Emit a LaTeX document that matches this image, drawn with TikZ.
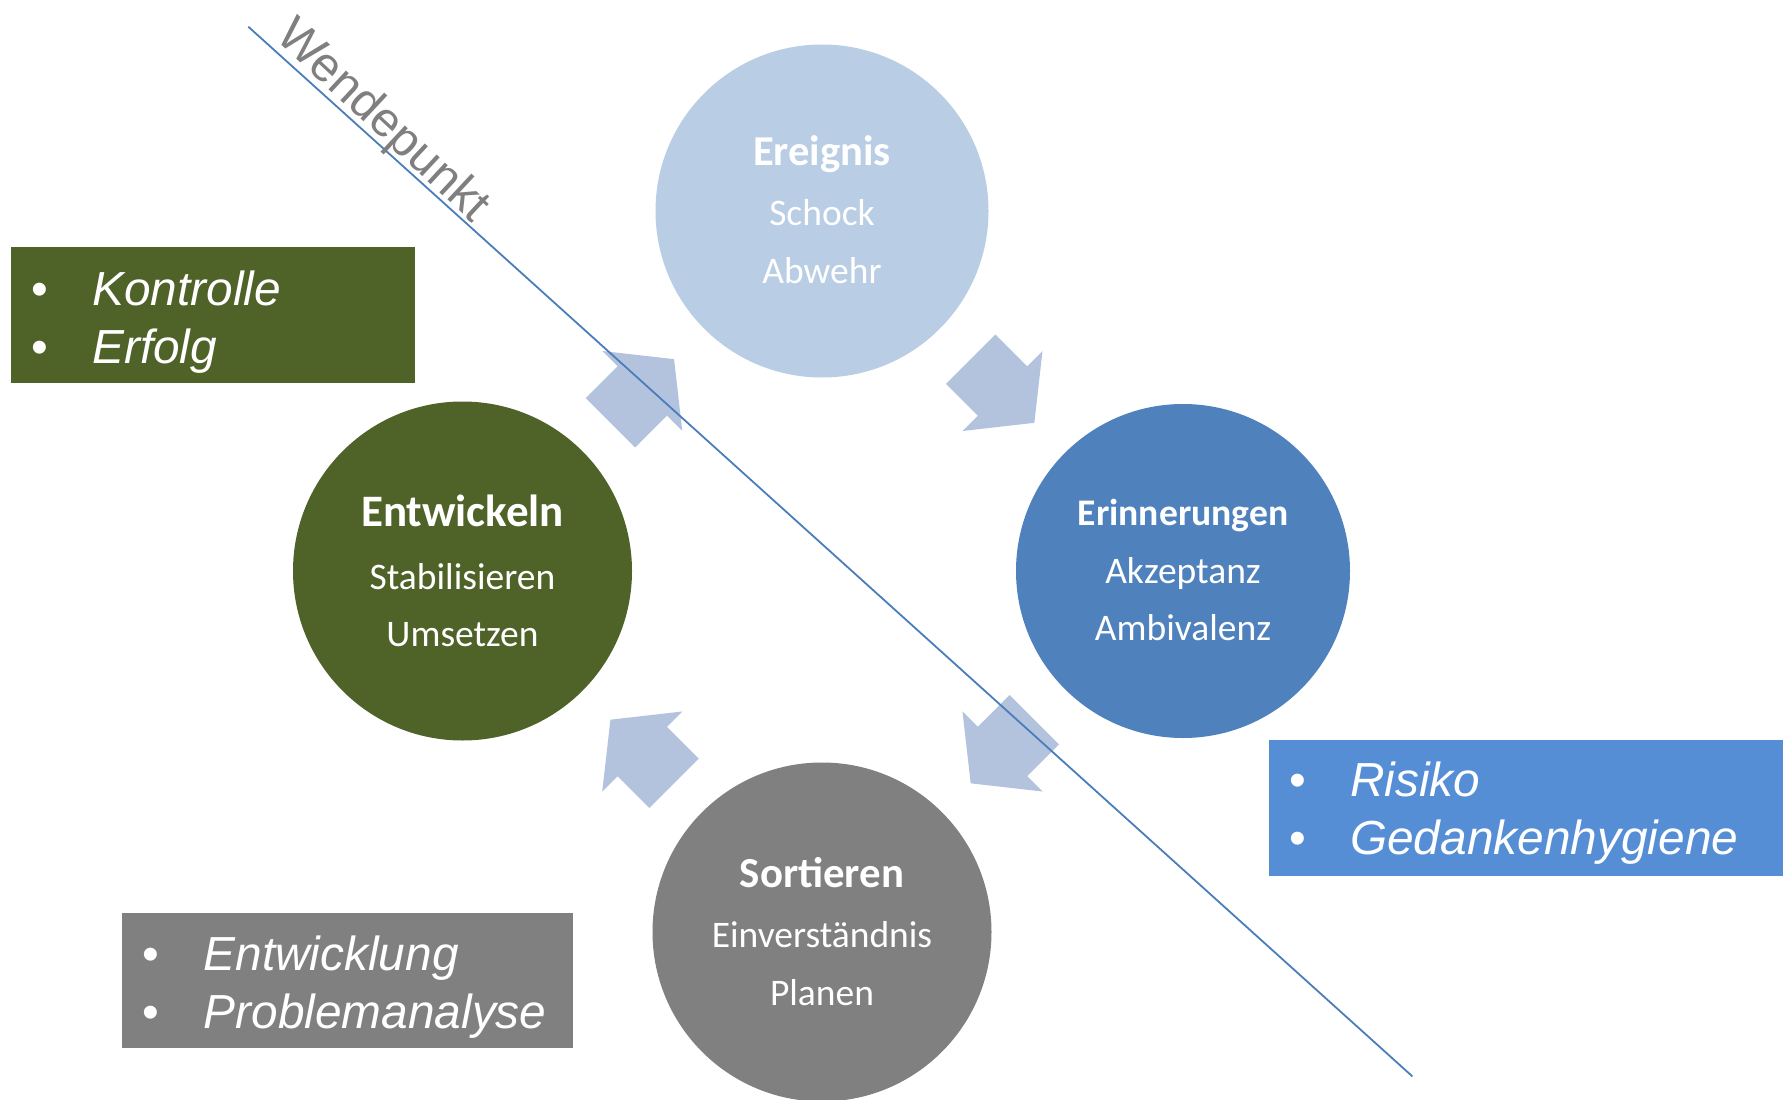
\documentclass[tikz,border=0pt]{standalone}
\usepackage{fontspec}
\setmainfont{Carlito}
\newfontfamily\arialf{Liberation Sans}
\usetikzlibrary{calc}
\definecolor{evblue}{HTML}{B9CDE5}
\definecolor{erblue}{HTML}{4F81BD}
\definecolor{sogray}{HTML}{808080}
\definecolor{engreen}{HTML}{4F6228}
\definecolor{boxblue}{HTML}{558ED5}
\definecolor{arrowc}{HTML}{B3C3DE}
\definecolor{linec}{HTML}{4A7EBB}
\definecolor{wpgray}{HTML}{7F7F7F}
\tikzset{
  circ/.style={circle,inner sep=0pt,draw=none},
  ttl/.style={anchor=base,inner sep=0pt,text=white},
  sub/.style={anchor=base,inner sep=0pt,text=white,font=\fontsize{37.5}{44}\selectfont},
  bbox/.style={rectangle,inner sep=0pt,draw=none,anchor=north west},
  btext/.style={anchor=base west,inner sep=0pt,text=white,font=\arialf\itshape\fontsize{47.8}{56}\selectfont},
  pics/cycarrow/.style={code={
    \fill[arrowc] (0,-56.6) -- (45,0) -- (0,56.6) -- (0,34.9) -- (-45,34.9) -- (-45,-34.9) -- (0,-34.9) -- cycle;}}
}
\newcommand{\bul}{\makebox[61pt][l]{\upshape\textbullet}}
\begin{document}
\begin{tikzpicture}[x=1pt,y=1pt]
\useasboundingbox (0,0) rectangle (1786,-1100);

% circles
\node[circ,fill=evblue,minimum size=333] (ev) at (822,-211) {};
\node[circ,fill=erblue,minimum size=334] (er) at (1183,-571) {};
\node[circ,fill=sogray,minimum size=339] (so) at (822,-932) {};
\node[circ,fill=engreen,minimum size=339] (en) at (462.5,-571) {};

% circle texts
\node[ttl,font=\bfseries\fontsize{42.6}{50}\selectfont] (ev1) at ($(ev)+(0,45.5)$) {Ereignis};
\node[sub] (ev2) at ($(ev)+(0,-14.5)$) {Schock};
\node[sub] (ev3) at ($(ev)+(0,-72)$) {Abwehr};

\node[ttl,font=\bfseries\fontsize{37.6}{44}\selectfont] (er1) at ($(er)+(0,45.5)$) {Erinnerungen};
\node[sub] (er2) at ($(er)+(0,-12.2)$) {Akzeptanz};
\node[sub] (er3) at ($(er)+(0,-69)$) {Ambivalenz};

\node[ttl,font=\bfseries\fontsize{42.8}{50}\selectfont] (so1) at ($(so)+(0,45)$) {Sortieren};
\node[sub] (so2) at ($(so)+(0,-15)$) {Einverständnis};
\node[sub] (so3) at ($(so)+(0,-73)$) {Planen};

\node[ttl,font=\bfseries\fontsize{45}{52}\selectfont] (en1) at ($(en)+(0,44.5)$) {Entwickeln};
\node[sub] (en2) at ($(en)+(0,-18.5)$) {Stabilisieren};
\node[sub] (en3) at ($(en)+(0,-75)$) {Umsetzen};

% cycle arrows
\pic[rotate=45] (a1) at ($(en)!0.5!(ev)$) {cycarrow};
\pic[rotate=-45] (a2) at ($(ev)!0.5!(er)$) {cycarrow};
\pic[rotate=225] (a3) at ($(er)!0.5!(so)$) {cycarrow};
\pic[rotate=135] (a4) at ($(so)!0.5!(en)$) {cycarrow};

% turning point line
\coordinate (ls) at (248.3,-26.7);
\coordinate (le) at (1412.4,-1076.4);
\draw[linec,line width=1.8pt] (ls) -- (le);
\node[anchor=base west,inner sep=0pt,rotate=-43,text=wpgray,font=\arialf\fontsize{48.5}{56}\selectfont] (wp) at (274,-38) {Wendepunkt};

% boxes
\node[bbox,fill=engreen,minimum width=404,minimum height=136] (gbox) at (11,-247) {};
\node[btext] (g1) at (31,-305) {\bul Kontrolle};
\node[btext] (g2) at (31,-363.5) {\bul Erfolg};

\node[bbox,fill=boxblue,minimum width=514,minimum height=136] (bbx) at (1269,-740) {};
\node[btext] (b1) at (1289,-796) {\bul Risiko};
\node[btext] (b2) at (1289,-854) {\bul Gedankenhygiene};

\node[bbox,fill=sogray,minimum width=451,minimum height=135] (gybox) at (122,-913) {};
\node[btext] (y1) at (142.5,-970) {\bul Entwicklung};
\node[btext] (y2) at (142.5,-1028) {\bul Problemanalyse};
\end{tikzpicture}
\end{document}
